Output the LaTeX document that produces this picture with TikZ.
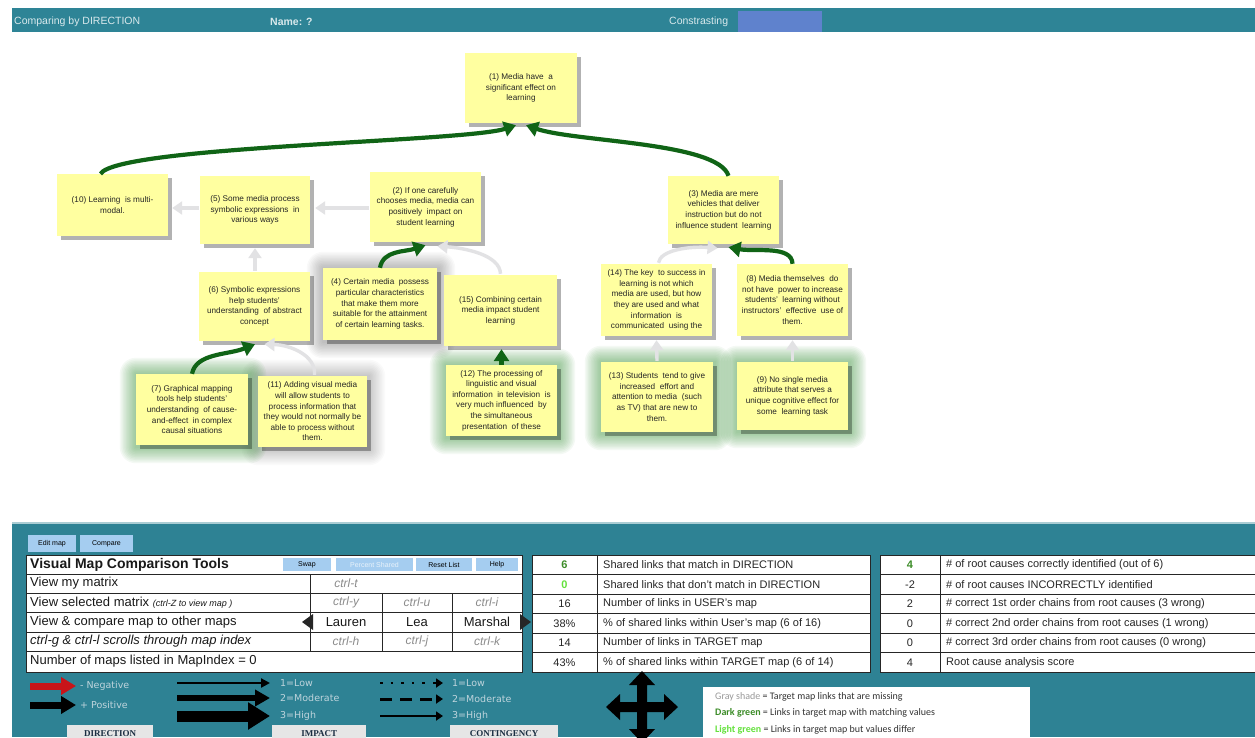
\documentclass[tikz,border=0pt]{standalone}
\usepackage{fontspec}
\setmainfont{Liberation Sans}
\newfontfamily\legfont{Carlito}
\newfontfamily\tahfont{DejaVu Sans}
\newfontfamily\serfont{Liberation Serif}
\usetikzlibrary{shadows,arrows.meta,calc}
\definecolor{barteal}{RGB}{46,132,150}
\definecolor{panelteal}{RGB}{46,130,148}
\definecolor{conblue}{RGB}{95,130,205}
\definecolor{noteyellow}{RGB}{255,255,160}
\definecolor{dgreen}{RGB}{16,100,22}
\definecolor{lgray}{RGB}{226,226,228}
\definecolor{btnblue}{RGB}{165,205,240}
\definecolor{glowgreen}{RGB}{60,150,60}
\definecolor{valgreen}{RGB}{60,140,40}
\definecolor{brightgreen}{RGB}{100,225,60}
\definecolor{legtext}{RGB}{190,212,220}
\definecolor{negred}{RGB}{200,20,25}
\definecolor{ctrlgray}{RGB}{140,140,140}
\definecolor{labgray}{RGB}{230,230,230}
\definecolor{labtext}{RGB}{25,45,65}
\pgfdeclarelayer{bg}
\pgfdeclarelayer{glow}
\pgfsetlayers{bg,glow,main}
\newcommand\glowbox[3]{%
  \begin{pgfonlayer}{glow}
  \foreach \d in {16,14.5,...,1}{
    \fill[#2, opacity=0.055*#3, rounded corners=\d pt] ($(#1.north west)+(-\d,-\d)$) rectangle ($(#1.south east)+(\d+2,\d+2)$);
  }
  \end{pgfonlayer}}
\tikzset{
  note/.style={fill=noteyellow, align=center, font=\fontsize{8.2}{10.6}\selectfont, text=black!85, inner sep=1pt,
    drop shadow={shadow xshift=3.5pt,shadow yshift=-3.5pt,fill=black,opacity=0.3}},
  sz/.style 2 args={minimum width=#1pt, minimum height=#2pt},
  gconn/.style={draw=dgreen, line width=4.2pt, -{Triangle[length=12pt,width=15pt]}},
  grayconn/.style={draw=lgray, line width=3.4pt, -{Triangle[length=10pt,width=13pt]}},
  bartext/.style={text=white!82!barteal, font=\fontsize{10.5}{12}\selectfont, inner sep=0pt},
  btn/.style={fill=btnblue, font=\fontsize{7}{8}\selectfont, inner sep=0pt},
  tone/.style={font=\fontsize{13}{15}\selectfont, inner sep=0pt, text=black!90},
  ctrl/.style={font=\fontsize{12}{14}\selectfont\itshape, text=ctrlgray, inner sep=0pt},
  ttwo/.style={font=\fontsize{11}{13}\selectfont, inner sep=0pt, text=black!85},
  legt/.style={font=\tahfont\fontsize{9.5}{11}\selectfont, text=legtext, inner sep=0pt, anchor=west},
  labbox/.style={fill=labgray, font=\serfont\bfseries\fontsize{9}{10}\selectfont, text=labtext, inner sep=0pt},
  boxt/.style={font=\legfont\fontsize{10}{12}\selectfont, text=black!80, inner sep=0pt, anchor=west}
}
\begin{document}
\begin{tikzpicture}[x=1pt,y=-1pt]
\begin{pgfonlayer}{bg}
\fill[white] (0,0) rectangle (1255,737);
\end{pgfonlayer}
\useasboundingbox (0,0) rectangle (1255,737);

% ---- top bar
\fill[barteal] (12,8) rectangle (1255,32);
\fill[conblue] (738,11) rectangle (822,32);
\node[bartext, anchor=west] (tb1) at (14,22) {Comparing by DIRECTION};
\node[bartext, anchor=west] (tb2) at (270,22) {\bfseries Name: ?};
\node[bartext, anchor=west] (tb3) at (669,22) {Constrasting};

% ---- sticky notes
\node[note, sz={112}{70}] (n1) at (521,88) {(1) Media have \ a\\significant effect on\\learning};
\node[note, sz={111}{62}] (n10) at (112.5,205) {(10) Learning \ is multi-\\modal.};
\node[note, sz={110}{68}] (n5) at (255,210) {(5) Some media process\\symbolic expressions \ in\\various ways};
\node[note, sz={111}{70}] (n2) at (425.5,207) {(2) If one carefully\\chooses media, media can\\positively \ impact on\\student learning};
\node[note, sz={111}{68}] (n3) at (723.5,210) {(3) Media are mere\\vehicles that deliver\\instruction but do not\\influence student \ learning};
\node[note, sz={111}{69}] (n6) at (254.5,306.5) {(6) Symbolic expressions\\help students'\\understanding \ of abstract\\concept};
\node[note, sz={114}{72}] (n4) at (380,304) {(4) Certain media \ possess\\particular characteristics\\that make them more\\suitable for the attainment\\of certain learning tasks.};
\node[note, sz={113}{71}] (n15) at (500.5,310.5) {(15) Combining certain\\media impact student\\learning};
\node[note, sz={111}{72}] (n14) at (656.5,300) {(14) The key \ to success in\\learning is not which\\media are used, but how\\they are used and what\\information \ is\\communicated \ using the};
\node[note, sz={111}{72}] (n8) at (792.5,300) {(8) Media themselves \ do\\not have \ power to increase\\students' \ learning without\\instructors' \ effective \ use of\\them.};
\node[note, sz={112}{71}] (n7) at (192,409.5) {(7) Graphical mapping\\tools help students'\\understanding \ of cause-\\and-effect \ in complex\\causal situations};
\node[note, sz={109}{71}] (n11) at (312.5,411.5) {(11) Adding visual media\\will allow students to\\process information that\\they would not normally be\\able to process without\\them.};
\node[note, sz={111}{71}] (n12) at (501.5,400.5) {(12) The processing of\\linguistic and visual\\information \ in television \ is\\very much influenced \ by\\the simultaneous\\presentation \ of these};
\node[note, sz={112}{70}] (n13) at (657,397) {(13) Students \ tend to give\\increased \ effort and\\attention to media \ (such\\as TV) that are new to\\them.};
\node[note, sz={111}{68}] (n9) at (792.5,396) {(9) No single media\\attribute that serves a\\unique cognitive effect for\\some \ learning task};

% glows
\glowbox{n4}{black}{0.45}
\glowbox{n11}{black}{0.35}
\glowbox{n7}{glowgreen}{1}
\glowbox{n12}{glowgreen}{1}
\glowbox{n13}{glowgreen}{1}
\glowbox{n9}{glowgreen}{1}

% ---- gray connectors (missing links)
\draw[grayconn] ($(n5.west)+(-1,-2)$) -- ($(n10.east)+(4,3)$);
\draw[grayconn] ($(n2.west)+(-1,1)$) -- ($(n5.east)+(5,-2)$);
\draw[grayconn] ($(n6.north)+(0.5,-1)$) -- ($(n5.south)+(0,4)$);
\draw[grayconn] ($(n11.north)+(2,-1)$) .. controls (316,355) and (290,345) .. ($(n6.south)+(10,3)$);
\draw[grayconn] ($(n15.north)+(0,-1)$) .. controls (500,255) and (465,248) .. ($(n2.south)+(12,4)$);
\draw[grayconn] ($(n14.north)+(2,-1)$) .. controls (660,250) and (690,246) .. ($(n3.south)+(-6,4)$);
\draw[grayconn] ($(n13.north)+(0,-1)$) -- ($(n14.south)+(0,4)$);
\draw[grayconn] ($(n9.north)+(0,-1)$) -- ($(n8.south)+(0,4)$);

% ---- dark green connectors
\draw[gconn] ($(n10.north)+(-12,0)$) .. controls (118,146) and (465,142) .. ($(n1.south)+(-5,2)$);
\draw[gconn] ($(n3.north)+(5,0)$) .. controls (718,142) and (575,142) .. ($(n1.south)+(5,2)$);
\draw[gconn] (n4.north) .. controls (383,250) and (405,252) .. ($(n2.south)+(0,3)$);
\draw[gconn] (n7.north) .. controls (196,353) and (228,355) .. ($(n6.south)+(0.5,3)$);
\draw[gconn] (n12.north) -- ($(n15.south)+(1,3)$);
\draw[gconn] (n8.north) .. controls (792,245) and (755,252) .. ($(n3.south)+(5,3)$);

% ---- bottom panel
\fill[panelteal] (12,522) rectangle (1255,737);
\draw[white!60!panelteal, line width=1.5pt] (12,523) -- (1255,523);
\node[btn, minimum width=48pt, minimum height=17pt] (bedit) at (52,543.5) {Edit map};
\node[btn, minimum width=53pt, minimum height=17pt] (bcomp) at (106.5,543.5) {Compare};

% table 1
\fill[white] (26,555) rectangle (522,672);
\draw[black!85, line width=0.9pt] (26,555) rectangle (522,672);
\foreach \yy in {574,593,612,632,651} \draw[black!85, line width=0.9pt] (26,\yy) -- (522,\yy);
\draw[black!85, line width=0.9pt] (310,574) -- (310,651);
\foreach \xx in {382,452} \draw[black!85, line width=0.9pt] (\xx,593) -- (\xx,651);
\node[tone, anchor=west, font=\bfseries\fontsize{14}{16}\selectfont] (t1h) at (30,564.5) {Visual Map Comparison Tools};
\node[btn, minimum width=48pt, minimum height=13pt] (bswap) at (307,564.5) {Swap};
\node[btn, minimum width=77pt, minimum height=13pt, text=white!75!btnblue] (bpct) at (374.5,564.5) {Percent Shared};
\node[btn, minimum width=56pt, minimum height=13pt] (breset) at (444,564.5) {Reset List};
\node[btn, minimum width=42pt, minimum height=13pt] (bhelp) at (497,564.5) {Help};
\node[tone, anchor=west] (t1a) at (30,583.5) {View my matrix};
\node[ctrl] (c1) at (346,583.5) {ctrl-t};
\node[tone, anchor=west] (t1b) at (30,602.5) {View selected matrix {\fontsize{9}{10}\selectfont\itshape(ctrl-Z to view map )}};
\node[ctrl] (c2) at (346,602.5) {ctrl-y};
\node[ctrl] (c3) at (417,602.5) {ctrl-u};
\node[ctrl] (c4) at (487,602.5) {ctrl-i};
\node[tone, anchor=west] (t1c) at (30,622) {View \& compare map to other maps};
\node[tone] (m1) at (346,622) {Lauren};
\node[tone] (m2) at (417,622) {Lea};
\node[tone] (m3) at (487,622) {Marshal};
\fill[black!85] (302,622) -- (313,614) -- (313,630) -- cycle;
\fill[black!85] (531,622) -- (520,614) -- (520,630) -- cycle;
\node[tone, anchor=west, font=\itshape\fontsize{13}{15}\selectfont] (t1d) at (30,641.5) {ctrl-g \& ctrl-l scrolls through map index};
\node[ctrl] (c5) at (346,641.5) {ctrl-h};
\node[ctrl] (c6) at (417,641.5) {ctrl-j};
\node[ctrl] (c7) at (487,641.5) {ctrl-k};
\node[tone, anchor=west] (t1e) at (30,661.5) {Number of maps listed in MapIndex = 0};

% table 2
\fill[white] (532,555) rectangle (870,672);
\draw[black!85, line width=0.9pt] (532,555) rectangle (870,672);
\foreach \yy in {574.5,594,613.5,633,652.5} \draw[black!85, line width=0.9pt] (532,\yy) -- (870,\yy);
\draw[black!85, line width=0.9pt] (597,555) -- (597,672);
\node[ttwo, text=valgreen, font=\bfseries\fontsize{11}{13}\selectfont] (v21) at (564.5,564.8) {6};
\node[ttwo, text=brightgreen, font=\bfseries\fontsize{11}{13}\selectfont] (v22) at (564.5,584.3) {0};
\node[ttwo] (v23) at (564.5,603.8) {16};
\node[ttwo] (v24) at (564.5,623.3) {38\%};
\node[ttwo] (v25) at (564.5,642.8) {14};
\node[ttwo] (v26) at (564.5,662.3) {43\%};
\node[ttwo, anchor=west] (d21) at (603,564.8) {Shared links that match in DIRECTION};
\node[ttwo, anchor=west] (d22) at (603,584.3) {Shared links that don't match in DIRECTION};
\node[ttwo, anchor=west] (d23) at (603,603.8) {Number of links in USER's map};
\node[ttwo, anchor=west] (d24) at (603,623.3) {\% of shared links within User's map (6 of 16)};
\node[ttwo, anchor=west] (d25) at (603,642.8) {Number of links in TARGET map};
\node[ttwo, anchor=west] (d26) at (603,662.3) {\% of shared links within TARGET map (6 of 14)};

% table 3
\fill[white] (880,555) rectangle (1255,672);
\draw[black!85, line width=0.9pt] (880,555) rectangle (1260,672);
\foreach \yy in {574.5,594,613.5,633,652.5} \draw[black!85, line width=0.9pt] (880,\yy) -- (1255,\yy);
\draw[black!85, line width=0.9pt] (940,555) -- (940,672);
\node[ttwo, text=valgreen, font=\bfseries\fontsize{11}{13}\selectfont] (v31) at (910,564.8) {4};
\node[ttwo] (v32) at (910,584.3) {-2};
\node[ttwo] (v33) at (910,603.8) {2};
\node[ttwo] (v34) at (910,623.3) {0};
\node[ttwo] (v35) at (910,642.8) {0};
\node[ttwo] (v36) at (910,662.3) {4};
\node[ttwo, anchor=west] (d31) at (946,564.8) {\# of root causes correctly identified (out of 6)};
\node[ttwo, anchor=west] (d32) at (946,584.3) {\# of root causes INCORRECTLY identified};
\node[ttwo, anchor=west] (d33) at (946,603.8) {\# correct 1st order chains from root causes (3 wrong)};
\node[ttwo, anchor=west] (d34) at (946,623.3) {\# correct 2nd order chains from root causes (1 wrong)};
\node[ttwo, anchor=west] (d35) at (946,642.8) {\# correct 3rd order chains from root causes (0 wrong)};
\node[ttwo, anchor=west] (d36) at (946,662.3) {Root cause analysis score};

% ---- legend: direction
\coordinate (ra) at (30,686); \coordinate (rb) at (76,686);
\coordinate (ba) at (30,705); \coordinate (bb) at (76,705);
\draw[negred, line width=7pt, -{Triangle[length=15pt,width=17pt]}] (ra) -- (rb);
\draw[black, line width=7pt, -{Triangle[length=15pt,width=17pt]}] (ba) -- (bb);
\node[legt] (lneg) at (80,686) {- Negative};
\node[legt] (lpos) at (80,705) {+ Positive};
\node[labbox, minimum width=86pt, minimum height=16pt, anchor=north west] (lab1) at (67,725) {DIRECTION};

% impact
\coordinate (i1a) at (177,683); \coordinate (i1b) at (270,683);
\coordinate (i2a) at (177,698); \coordinate (i2b) at (270,698);
\coordinate (i3a) at (177,716); \coordinate (i3b) at (270,716);
\draw[black, line width=2.4pt, -{Triangle[length=9pt,width=9pt]}] (i1a) -- (i1b);
\draw[black, line width=6pt, -{Triangle[length=15pt,width=16pt]}] (i2a) -- (i2b);
\draw[black, line width=11pt, -{Triangle[length=22pt,width=26pt]}] (i3a) -- (i3b);
\node[legt] (il1) at (280,683) {1=Low};
\node[legt] (il2) at (280,698) {2=Moderate};
\node[legt] (il3) at (280,716) {3=High};
\node[labbox, minimum width=94pt, minimum height=16pt, anchor=north west] (lab2) at (272,725) {IMPACT};

% contingency
\coordinate (c1a) at (380,683); \coordinate (c1b) at (443,683);
\coordinate (c2a) at (380,699); \coordinate (c2b) at (443,699);
\coordinate (c3a) at (380,716); \coordinate (c3b) at (443,716);
\draw[black, line width=2.6pt, dash pattern=on 2.6pt off 8pt, -{Triangle[length=7pt,width=9pt]}] (c1a) -- (c1b);
\draw[black, line width=3pt, dash pattern=on 12pt off 8pt, -{Triangle[length=7pt,width=9pt]}] (c2a) -- (c2b);
\draw[black, line width=1.8pt, -{Triangle[length=7pt,width=9pt]}] (c3a) -- (c3b);
\node[legt] (cl1) at (452,683) {1=Low};
\node[legt] (cl2) at (452,699) {2=Moderate};
\node[legt] (cl3) at (452,716) {3=High};
\node[labbox, minimum width=108pt, minimum height=16pt, anchor=north west] (lab3) at (450,725) {CONTINGENCY};

% four-way move arrow
\fill[black] (642,707) ++(0,-36) -- ++(13,14) -- ++(-8,0) -- ++(0,17) -- ++(17,0) -- ++(0,-8) -- ++(14,13)
  -- ++(-14,13) -- ++(0,-8) -- ++(-17,0) -- ++(0,17) -- ++(8,0) -- ++(-13,14) -- ++(-13,-14) -- ++(8,0)
  -- ++(0,-17) -- ++(-17,0) -- ++(0,8) -- ++(-14,-13) -- ++(14,-13) -- ++(0,8) -- ++(17,0) -- ++(0,-17) -- ++(-8,0) -- cycle;

% color key box
\fill[white] (703,687) rectangle (1030,737);
\node[boxt] (k1) at (715,697) {\textcolor{black!40}{Gray shade} = Target map links that are missing};
\node[boxt] (k2) at (715,713) {\textcolor{valgreen}{\bfseries Dark green} = Links in target map with matching values};
\node[boxt] (k3) at (715,729.5) {\textcolor{brightgreen}{\bfseries Light green} = Links in target map but values differ};
\end{tikzpicture}
\end{document}
